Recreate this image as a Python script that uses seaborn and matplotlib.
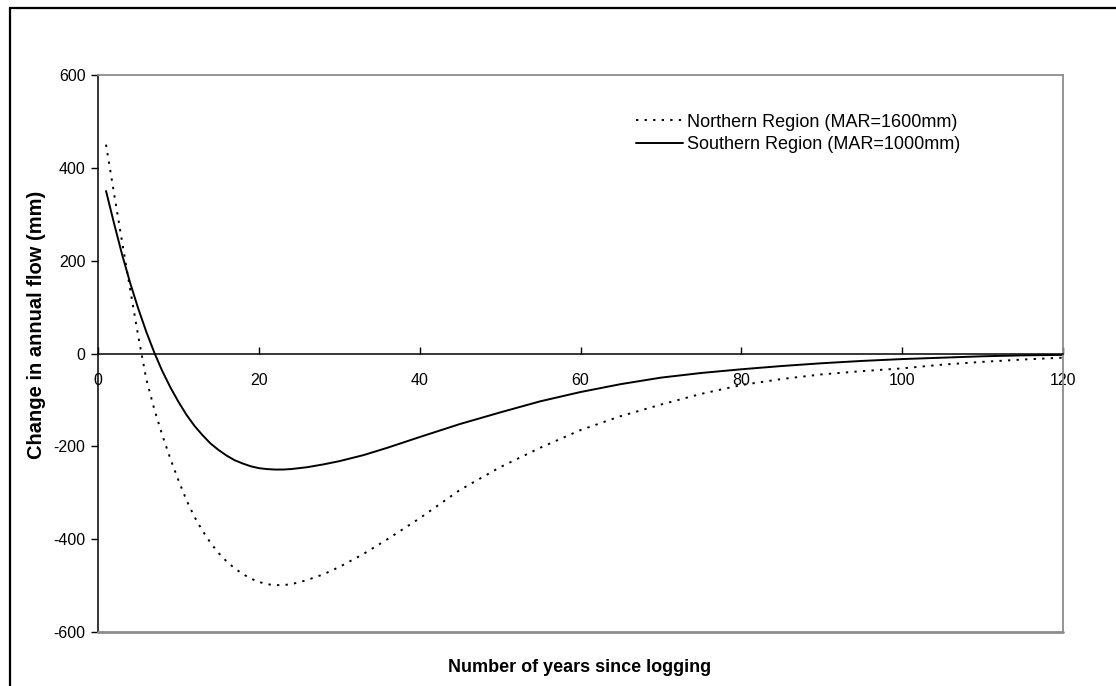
import matplotlib
matplotlib.use("Agg")
import matplotlib.pyplot as plt
import seaborn as sns
import pandas as pd
from matplotlib.lines import Line2D

# ---- data ----
years = [1, 2, 3, 4, 5, 6, 7, 8, 9, 10, 11, 12, 13, 14, 15, 16, 17, 18, 19, 20,
         21, 22, 23, 24, 25, 26, 28, 30, 33, 36, 40, 45, 50, 55, 60, 65, 70, 75,
         80, 85, 90, 95, 100, 105, 110, 115, 120]
northern = [450, 344, 240, 138, 38, -55, -120, -176, -227, -273, -316, -352, -382,
            -408, -430, -448, -463, -475, -485, -492, -497, -499, -499, -497, -493,
            -488, -476, -460, -432, -400, -355, -294, -245, -203, -165, -135, -110,
            -87, -68, -55, -45, -38, -32, -24, -18, -13, -9]
southern = [350, 280, 213, 152, 97, 47, 2, -38, -73, -104, -132, -156, -176,
            -194, -208, -220, -230, -237, -243, -247, -249, -250, -250, -249, -247,
            -245, -239, -232, -219, -203, -180, -152, -127, -103, -83, -66, -52,
            -42, -34, -27, -21, -16, -12, -9, -6, -4, -3]
series_names = ["Northern Region (MAR=1600mm)", "Southern Region (MAR=1000mm)"]
x_ticks = [0, 20, 40, 60, 80, 100, 120]
y_ticks = [-600, -400, -200, 0, 200, 400, 600]
x_label = "Number of years since logging"
y_label = "Change in annual flow (mm)"

df = pd.DataFrame({
    "year": years * 2,
    "flow": northern + southern,
    "region": [series_names[0]] * len(years) + [series_names[1]] * len(years),
})

sns.set_theme(style="white")
plt.rcParams["font.family"] = ["Liberation Sans", "DejaVu Sans"]
plt.rcParams["text.color"] = "black"
plt.rcParams["xtick.color"] = "black"
plt.rcParams["ytick.color"] = "black"

W, H = 1116, 686
fig = plt.figure(figsize=(W / 100, H / 100), dpi=100)
L, R, T, B = 98, 1063, 75, 632
ax = fig.add_axes([L / W, 1 - B / H, (R - L) / W, (B - T) / H])

dot = (1.2, 3.2)
sns.lineplot(data=df, x="year", y="flow", hue="region", style="region",
             palette=["black", "black"],
             dashes={series_names[0]: dot, series_names[1]: ""},
             linewidth=1.4, ax=ax, legend=False, estimator=None, sort=False)

gray = "#8c8c8c"
for s in ["top", "right"]:
    ax.spines[s].set_color(gray)
    ax.spines[s].set_linewidth(1.3)
ax.spines["left"].set_color("black")
ax.spines["left"].set_linewidth(1.1)
ax.spines["bottom"].set_position(("data", 0))
ax.spines["bottom"].set_color("black")
ax.spines["bottom"].set_linewidth(1.1)
ax.axhline(-600, color=gray, lw=2.0, clip_on=False, zorder=3)

ax.set_xlim(0, 120)
ax.set_ylim(-600, 600)
ax.set_xticks(x_ticks)
ax.set_yticks(y_ticks)
ax.set_xticklabels([str(v) for v in x_ticks])
ax.set_yticklabels([str(v) for v in y_ticks])

ax.tick_params(axis="x", direction="in", length=5, width=1, color="black",
               pad=14, labelcolor="black", labelsize=11.5, bottom=True)
ax.tick_params(axis="y", direction="out", length=5, width=1, color="black",
               pad=4, labelcolor="black", labelsize=11.5, left=True)

ax.set_xlabel("")
ax.set_ylabel("")
fig.text(580 / W, 1 - 668 / H, x_label, ha="center", va="center",
         fontsize=13, fontweight="bold", color="black")
fig.text(37 / W, 1 - 325 / H, y_label, ha="center", va="center",
         rotation=90, fontsize=14.5, fontweight="bold", color="black")

handles = [Line2D([], [], color="black", lw=1.4, dashes=dot),
           Line2D([], [], color="black", lw=1.4)]
leg = ax.legend(handles, series_names, loc="upper left",
                bbox_to_anchor=(623 / W, 1 - 101 / H), bbox_transform=fig.transFigure,
                frameon=False, fontsize=13, handlelength=2.6, handletextpad=0.25,
                labelspacing=0.3, borderpad=0.2)
for t in leg.get_texts():
    t.set_color("black")

# outer border (top and left visible)
fig.add_artist(Line2D([10 / W, 10 / W], [0, 1 - 8 / H], color="black", lw=1.6,
                      transform=fig.transFigure))
fig.add_artist(Line2D([10 / W, 1], [1 - 8 / H, 1 - 8 / H], color="black", lw=1.6,
                      transform=fig.transFigure))

fig.savefig("out.png", dpi=100)
